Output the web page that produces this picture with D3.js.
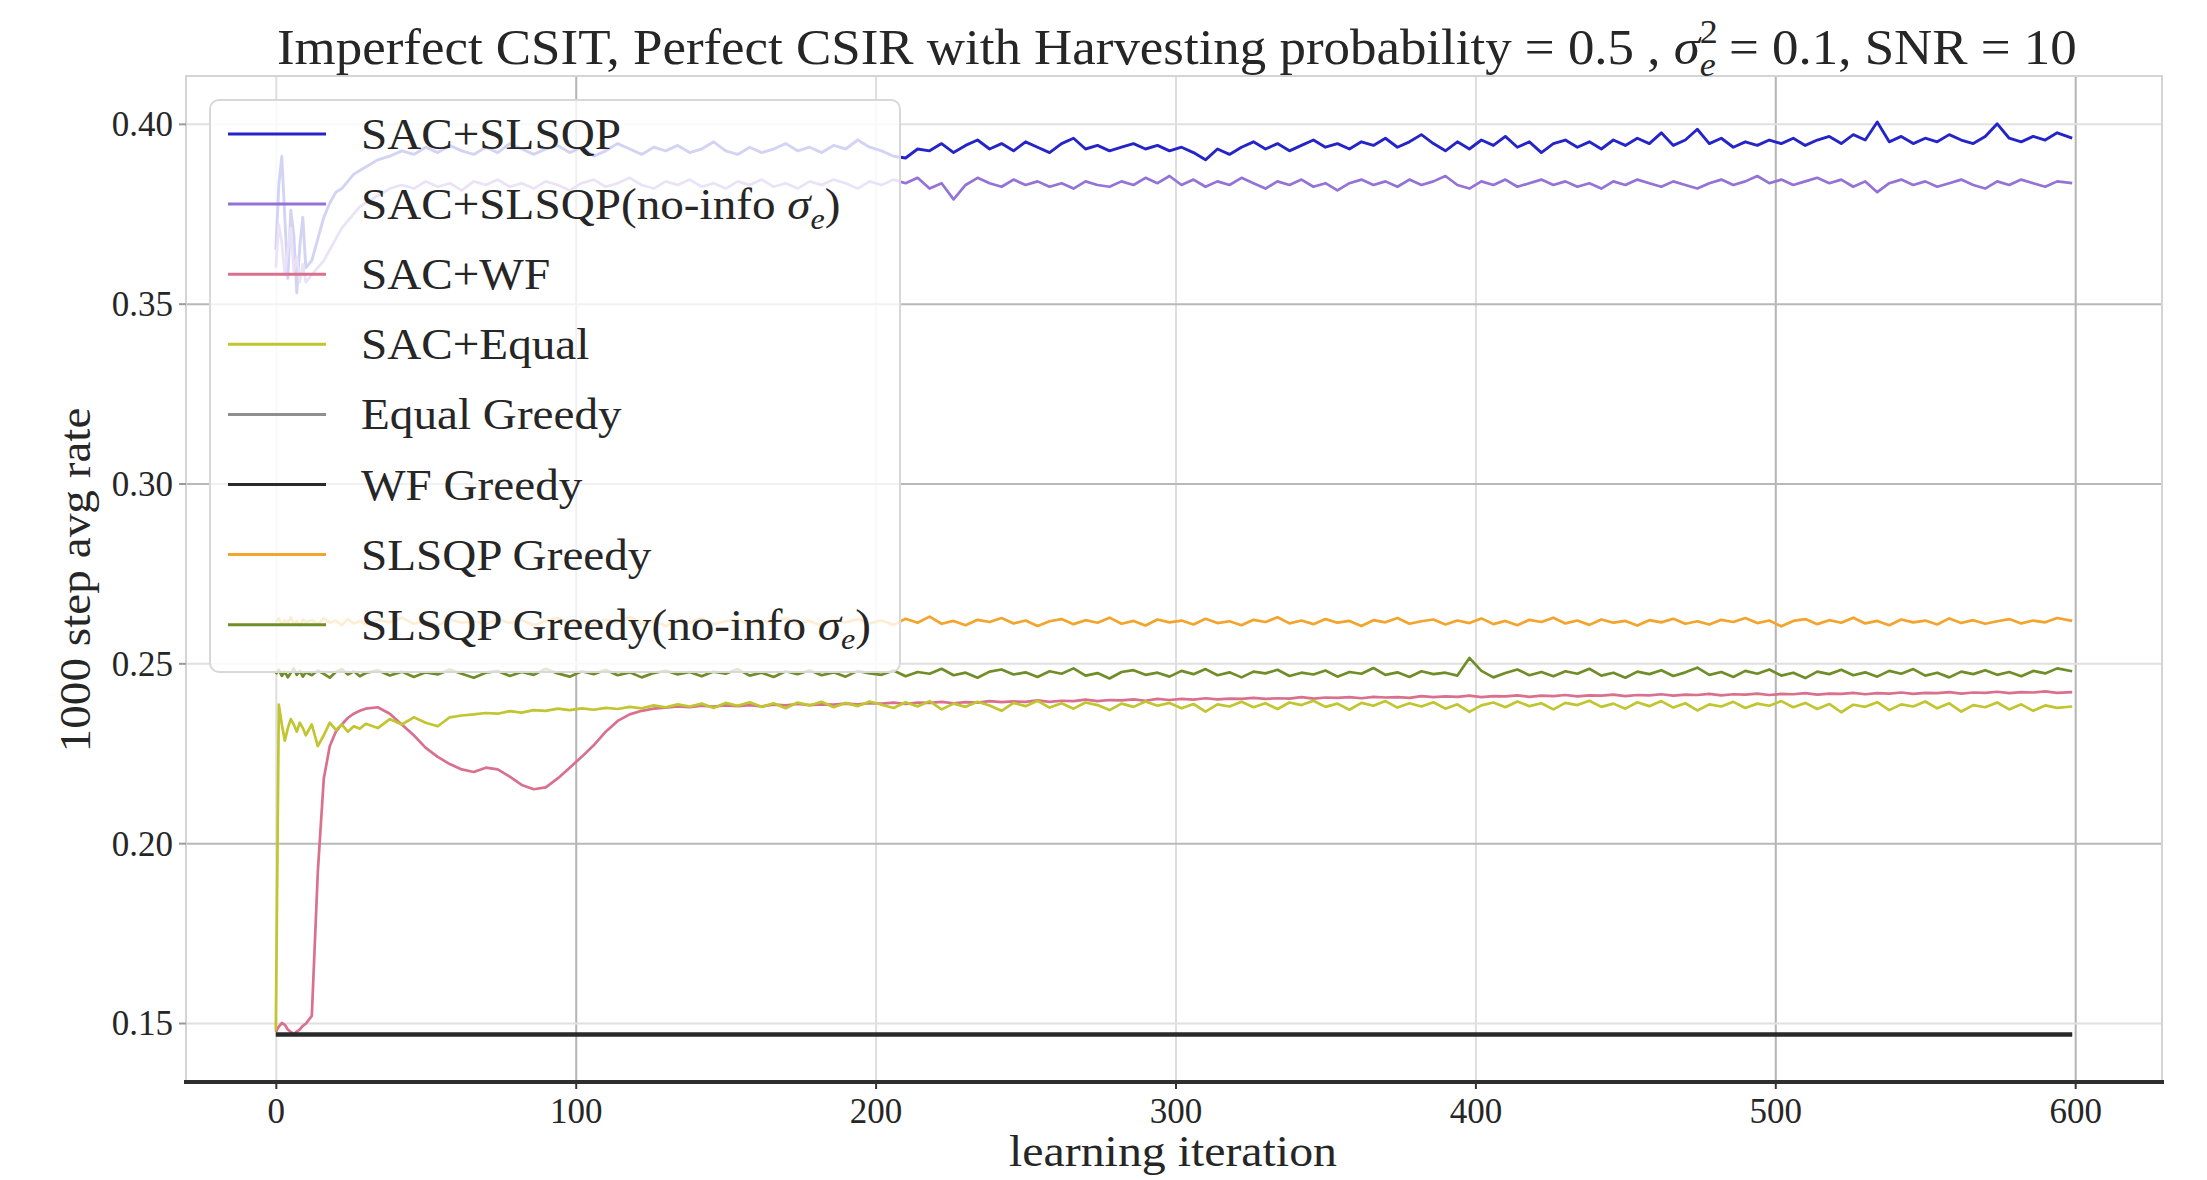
<!DOCTYPE html>
<html>
<head>
<meta charset="utf-8">
<script src="https://cdn.jsdelivr.net/npm/d3@7/dist/d3.min.js"></script>
<style>
  html, body { margin: 0; padding: 0; background: #fff; }
  svg { display: block; }
  text { font-family: "Liberation Serif", "DejaVu Serif", serif; fill: #262626; }
</style>
</head>
<body>
<div id="chart"></div>
<script>
//#region Data
// sampled learning iterations (dense at the start, every 4 afterwards)
const iters = d3.range(0, 11).concat(d3.range(12, 30, 2), d3.range(30, 595, 4), [599]);
const greedyIters = [0, 599];

const seriesNames = [
    "SAC+SLSQP", "SAC+SLSQP(no-info σe)", "SAC+WF", "SAC+Equal",
    "Equal Greedy", "WF Greedy", "SLSQP Greedy", "SLSQP Greedy(no-info σe)"
];

const xTicks = [0, 100, 200, 300, 400, 500, 600];
const yTicks = [0.15, 0.20, 0.25, 0.30, 0.35, 0.40];

const sacSlsqp = [
    0.365, 0.383, 0.391, 0.374, 0.357, 0.376, 0.369, 0.353, 0.366, 0.374, 0.360,
    0.362, 0.368, 0.374, 0.378, 0.381, 0.382, 0.384, 0.386, 0.387,
    0.388, 0.390, 0.391, 0.3925, 0.3915, 0.3935, 0.392, 0.394, 0.3925, 0.3915,
    0.3935, 0.392, 0.3945, 0.393, 0.3915, 0.393, 0.394, 0.392, 0.3935, 0.391,
    0.3925, 0.3945, 0.393, 0.3915, 0.3935, 0.3925, 0.394, 0.392, 0.393, 0.395,
    0.3925, 0.3915, 0.3935, 0.392, 0.393, 0.3945, 0.3925, 0.3935, 0.392, 0.394,
    0.393, 0.3955, 0.3935,
    0.3925, 0.3910, 0.3905, 0.3930, 0.3925, 0.3945, 0.3920, 0.3940, 0.3955, 0.3930,
    0.3945, 0.3925, 0.3950, 0.3935, 0.3920, 0.3945, 0.3960, 0.3930, 0.3940, 0.3925,
    0.3935, 0.3945, 0.3930, 0.3940, 0.3925, 0.3935, 0.3920, 0.3900, 0.3930, 0.3915,
    0.3935, 0.3950, 0.3930, 0.3945, 0.3925, 0.3940, 0.3955, 0.3935, 0.3945, 0.3930,
    0.3950, 0.3940, 0.3960, 0.3935, 0.3950, 0.3970, 0.3945, 0.3925, 0.3950, 0.3930,
    0.3955, 0.3940, 0.3965, 0.3935, 0.3950, 0.3920, 0.3945, 0.3955, 0.3935, 0.3950,
    0.3930, 0.3955, 0.3940, 0.3960, 0.3945, 0.3975, 0.3940, 0.3955, 0.3985, 0.3945,
    0.3960, 0.3935, 0.3950, 0.3940, 0.3955, 0.3945, 0.3960, 0.3940, 0.3955, 0.3965,
    0.3945, 0.3970, 0.3955, 0.4005, 0.3950, 0.3965, 0.3945, 0.3960, 0.3950, 0.3970,
    0.3955, 0.3945, 0.3965, 0.4000, 0.3960, 0.3950, 0.3965, 0.3955, 0.3975, 0.3960
];

const sacSlsqpNoInfo = [
    0.360, 0.372, 0.367, 0.358, 0.365, 0.371, 0.359, 0.363, 0.356, 0.361, 0.356,
    0.358, 0.360, 0.362, 0.365, 0.368, 0.371, 0.373, 0.375, 0.377,
    0.378, 0.380, 0.382, 0.383, 0.3820, 0.3840, 0.3825, 0.3835, 0.3815, 0.3840,
    0.3830, 0.3845, 0.3825, 0.3835, 0.3820, 0.3840, 0.3830, 0.3815, 0.3835, 0.3845,
    0.3825, 0.3835, 0.3850, 0.3830, 0.3820, 0.3840, 0.3830, 0.3845, 0.3825, 0.3835,
    0.3820, 0.3840, 0.3830, 0.3845, 0.3825, 0.3835, 0.3820, 0.3840, 0.3830, 0.3845,
    0.3835, 0.3820, 0.3840,
    0.3830, 0.3845, 0.3835, 0.3850, 0.3820, 0.3835, 0.3790, 0.3830, 0.3850, 0.3835,
    0.3825, 0.3845, 0.3830, 0.3840, 0.3825, 0.3835, 0.3820, 0.3840, 0.3830, 0.3825,
    0.3840, 0.3830, 0.3850, 0.3835, 0.3855, 0.3830, 0.3845, 0.3825, 0.3840, 0.3830,
    0.3850, 0.3835, 0.3820, 0.3840, 0.3830, 0.3845, 0.3825, 0.3835, 0.3815, 0.3835,
    0.3845, 0.3830, 0.3840, 0.3825, 0.3845, 0.3830, 0.3840, 0.3855, 0.3830, 0.3820,
    0.3840, 0.3830, 0.3845, 0.3825, 0.3835, 0.3845, 0.3830, 0.3840, 0.3825, 0.3835,
    0.3820, 0.3840, 0.3830, 0.3845, 0.3835, 0.3825, 0.3840, 0.3830, 0.3820, 0.3835,
    0.3845, 0.3830, 0.3840, 0.3855, 0.3835, 0.3845, 0.3830, 0.3840, 0.3850, 0.3835,
    0.3845, 0.3825, 0.3840, 0.3810, 0.3835, 0.3845, 0.3830, 0.3840, 0.3825, 0.3835,
    0.3845, 0.3830, 0.3820, 0.3840, 0.3830, 0.3845, 0.3835, 0.3825, 0.3840, 0.3835
];

const sacWf = [
    0.1475, 0.1490, 0.1500, 0.1495, 0.1482, 0.1475, 0.1470, 0.1476, 0.1482, 0.1492, 0.1498,
    0.1520, 0.1920, 0.2180, 0.2270, 0.2310, 0.2330, 0.2348, 0.2360, 0.2368,
    0.2374, 0.2378, 0.2360, 0.2330, 0.2300, 0.2265, 0.2240, 0.2220, 0.2205, 0.2198,
    0.2210, 0.2205, 0.2185, 0.2162, 0.2150, 0.2155, 0.2180, 0.2210, 0.2240, 0.2272,
    0.2310, 0.2340, 0.2358, 0.2368, 0.2374, 0.2377, 0.2380, 0.2378, 0.2382, 0.2380,
    0.2383, 0.2381, 0.2384, 0.2380, 0.2385, 0.2383, 0.2387, 0.2384, 0.2386, 0.2385,
    0.2388, 0.2386, 0.2389,
    0.2388, 0.2391, 0.2387, 0.2391, 0.2390, 0.2393, 0.2389, 0.2392, 0.2391, 0.2395,
    0.2392, 0.2394, 0.2393, 0.2397, 0.2393, 0.2396, 0.2395, 0.2399, 0.2395, 0.2398,
    0.2397, 0.2400, 0.2396, 0.2401, 0.2398, 0.2401, 0.2399, 0.2403, 0.2400, 0.2402,
    0.2401, 0.2404, 0.2401, 0.2403, 0.2402, 0.2406, 0.2402, 0.2405, 0.2404, 0.2406,
    0.2403, 0.2407, 0.2405, 0.2406, 0.2404, 0.2409, 0.2406, 0.2408, 0.2407, 0.2410,
    0.2406, 0.2409, 0.2408, 0.2411, 0.2407, 0.2410, 0.2409, 0.2412, 0.2408, 0.2411,
    0.2410, 0.2413, 0.2409, 0.2412, 0.2411, 0.2414, 0.2410, 0.2413, 0.2412, 0.2415,
    0.2411, 0.2414, 0.2413, 0.2416, 0.2412, 0.2415, 0.2414, 0.2417, 0.2413, 0.2416,
    0.2415, 0.2418, 0.2414, 0.2417, 0.2416, 0.2419, 0.2415, 0.2418, 0.2417, 0.2420,
    0.2416, 0.2419, 0.2418, 0.2421, 0.2417, 0.2420, 0.2419, 0.2422, 0.2418, 0.2420
];

const sacEqual = [
    0.1480, 0.2385, 0.2330, 0.2285, 0.2320, 0.2345, 0.2330, 0.2310, 0.2335, 0.2320, 0.2300,
    0.2330, 0.2270, 0.2300, 0.2335, 0.2315, 0.2330, 0.2310, 0.2325, 0.2318,
    0.2332, 0.2320, 0.2345, 0.2330, 0.2350, 0.2335, 0.2325, 0.2350, 0.2355, 0.2358,
    0.2362, 0.2360, 0.2367, 0.2363, 0.2370, 0.2368, 0.2374, 0.2370, 0.2375, 0.2371,
    0.2376, 0.2373, 0.2379, 0.2375, 0.2383, 0.2378, 0.2386, 0.2380, 0.2388, 0.2376,
    0.2390, 0.2382, 0.2392, 0.2379, 0.2389, 0.2375, 0.2391, 0.2383, 0.2393, 0.2378,
    0.2390, 0.2381, 0.2394,
    0.2385, 0.2376, 0.2392, 0.2380, 0.2395, 0.2372, 0.2388, 0.2379, 0.2393, 0.2383,
    0.2368, 0.2390, 0.2381, 0.2396, 0.2377, 0.2389, 0.2374, 0.2391, 0.2384, 0.2370,
    0.2388, 0.2379, 0.2394, 0.2382, 0.2390, 0.2375, 0.2387, 0.2366, 0.2386, 0.2380,
    0.2393, 0.2378, 0.2389, 0.2373, 0.2391, 0.2384, 0.2396, 0.2379, 0.2388, 0.2371,
    0.2390, 0.2382, 0.2395, 0.2377, 0.2389, 0.2380, 0.2392, 0.2374, 0.2386, 0.2365,
    0.2383, 0.2391, 0.2378, 0.2394, 0.2381, 0.2389, 0.2372, 0.2390, 0.2384, 0.2396,
    0.2379, 0.2388, 0.2374, 0.2392, 0.2381, 0.2395, 0.2377, 0.2389, 0.2369, 0.2386,
    0.2380, 0.2393, 0.2376, 0.2388, 0.2382, 0.2395, 0.2378, 0.2390, 0.2373, 0.2387,
    0.2364, 0.2385, 0.2379, 0.2392, 0.2370, 0.2386, 0.2380, 0.2394, 0.2375, 0.2389,
    0.2366, 0.2384, 0.2378, 0.2391, 0.2372, 0.2386, 0.2368, 0.2383, 0.2376, 0.2380
];

const equalGreedy = [0.1468, 0.1468];
const wfGreedy = [0.1468, 0.1468];

const slsqpGreedy = [
    0.2615, 0.2625, 0.2608, 0.2620, 0.2612, 0.2628, 0.2610, 0.2618, 0.2605, 0.2622, 0.2614,
    0.2620, 0.2609, 0.2625, 0.2613, 0.2619, 0.2606, 0.2623, 0.2611, 0.2618,
    0.2608, 0.2621, 0.2614, 0.2627, 0.2610, 0.2619, 0.2605, 0.2622, 0.2613, 0.2617,
    0.2609, 0.2624, 0.2612, 0.2620, 0.2606, 0.2618, 0.2626, 0.2611, 0.2619, 0.2607,
    0.2621, 0.2614, 0.2629, 0.2610, 0.2618, 0.2604, 0.2620, 0.2613, 0.2625, 0.2609,
    0.2617, 0.2622, 0.2608, 0.2619, 0.2612, 0.2626, 0.2610, 0.2618, 0.2605, 0.2621,
    0.2614, 0.2623, 0.2611,
    0.2619, 0.2607, 0.2624, 0.2613, 0.2630, 0.2610, 0.2618, 0.2606, 0.2621, 0.2615,
    0.2626, 0.2611, 0.2619, 0.2604, 0.2617, 0.2623, 0.2609, 0.2620, 0.2613, 0.2627,
    0.2610, 0.2618, 0.2605, 0.2622, 0.2614, 0.2619, 0.2608, 0.2624, 0.2612, 0.2617,
    0.2606, 0.2621, 0.2615, 0.2628, 0.2611, 0.2619, 0.2609, 0.2623, 0.2613, 0.2618,
    0.2604, 0.2620, 0.2614, 0.2626, 0.2610, 0.2617, 0.2622, 0.2608, 0.2619, 0.2612,
    0.2625, 0.2609, 0.2618, 0.2606, 0.2621, 0.2615, 0.2627, 0.2611, 0.2619, 0.2607,
    0.2622, 0.2613, 0.2618, 0.2605, 0.2620, 0.2614, 0.2624, 0.2610, 0.2617, 0.2608,
    0.2621, 0.2615, 0.2626, 0.2612, 0.2619, 0.2603, 0.2618, 0.2623, 0.2609, 0.2620,
    0.2613, 0.2627, 0.2611, 0.2618, 0.2606, 0.2622, 0.2614, 0.2619, 0.2608, 0.2625,
    0.2612, 0.2620, 0.2610, 0.2617, 0.2623, 0.2611, 0.2619, 0.2614, 0.2626, 0.2618
];

const slsqpGreedyNoInfo = [
    0.2470, 0.2482, 0.2465, 0.2477, 0.2461, 0.2474, 0.2486, 0.2468, 0.2479, 0.2463, 0.2475,
    0.2467, 0.2480, 0.2471, 0.2460, 0.2476, 0.2484, 0.2469, 0.2478, 0.2464,
    0.2473, 0.2481, 0.2466, 0.2477, 0.2462, 0.2475, 0.2469, 0.2483, 0.2471, 0.2460,
    0.2474, 0.2479, 0.2465, 0.2476, 0.2468, 0.2485, 0.2472, 0.2463, 0.2478, 0.2470,
    0.2482, 0.2467, 0.2475, 0.2461, 0.2473, 0.2480, 0.2469, 0.2476, 0.2464, 0.2477,
    0.2471, 0.2484, 0.2466, 0.2474, 0.2462, 0.2478, 0.2470, 0.2481, 0.2467, 0.2475,
    0.2463, 0.2479, 0.2472,
    0.2468, 0.2480, 0.2464, 0.2476, 0.2471, 0.2485, 0.2467, 0.2474, 0.2460, 0.2477,
    0.2483, 0.2469, 0.2475, 0.2462, 0.2478, 0.2471, 0.2486, 0.2466, 0.2473, 0.2458,
    0.2476, 0.2481, 0.2468, 0.2474, 0.2463, 0.2479, 0.2470, 0.2484, 0.2467, 0.2475,
    0.2461, 0.2477, 0.2472, 0.2482, 0.2465, 0.2474, 0.2469, 0.2480, 0.2463, 0.2476,
    0.2471, 0.2487, 0.2468, 0.2475, 0.2462, 0.2478, 0.2470, 0.2474, 0.2466, 0.2515,
    0.2479, 0.2461, 0.2473, 0.2483, 0.2467, 0.2476, 0.2464, 0.2478, 0.2471, 0.2485,
    0.2466, 0.2474, 0.2460, 0.2477, 0.2470, 0.2481, 0.2465, 0.2475, 0.2488, 0.2468,
    0.2476, 0.2462, 0.2479, 0.2471, 0.2483, 0.2466, 0.2474, 0.2459, 0.2477, 0.2470,
    0.2482, 0.2467, 0.2475, 0.2463, 0.2479, 0.2471, 0.2484, 0.2466, 0.2474, 0.2461,
    0.2477, 0.2470, 0.2481, 0.2468, 0.2476, 0.2464, 0.2479, 0.2472, 0.2486, 0.2478
];
//#endregion

//#region Chart
const W = 2207, H = 1180;
const plot = { left: 186, right: 2162, top: 76, bottom: 1082 };

const colors = ["#2424c8", "#9472d6", "#d9708e", "#c0c530", "#8f8f8f", "#2a2a2a", "#f2a42c", "#6f8e28"];
const widths = [2.9, 2.7, 2.7, 2.7, 2.7, 4.6, 2.7, 2.7];

const seriesList = [
    { x: iters, y: sacSlsqp },
    { x: iters, y: sacSlsqpNoInfo },
    { x: iters, y: sacWf },
    { x: iters, y: sacEqual },
    { x: greedyIters, y: equalGreedy },
    { x: greedyIters, y: wfGreedy },
    { x: iters, y: slsqpGreedy },
    { x: iters, y: slsqpGreedyNoInfo }
].map((s, i) => {
    if (s.x.length !== s.y.length) console.warn("length mismatch", seriesNames[i], s.x.length, s.y.length);
    return { name: seriesNames[i], points: s.x.map((v, j) => [v, s.y[j]]) };
});

const svg = d3.select("#chart").append("svg")
    .attr("width", W)
    .attr("height", H);

svg.append("rect").attr("width", W).attr("height", H).attr("fill", "#fff");

const x = d3.scaleLinear().domain([-29.95, 628.95]).range([plot.left, plot.right]);
const y = d3.scaleLinear().domain([0.1336, 0.4133]).range([plot.bottom, plot.top]);

// grid (some lines came out darker in the original raster)
const darkX = [100, 500, 600];
const darkY = [0.20, 0.30, 0.35];

svg.append("g")
    .attr("transform", `translate(0,${plot.bottom})`)
    .call(d3.axisBottom(x).tickValues(xTicks).tickSize(-(plot.bottom - plot.top)).tickFormat(""))
    .call(g => g.select(".domain").remove())
    .call(g => g.selectAll(".tick line")
        .attr("stroke", d => darkX.includes(d) ? "#b4b4b4" : "#dedede")
        .attr("stroke-width", 2));

svg.append("g")
    .attr("transform", `translate(${plot.left},0)`)
    .call(d3.axisLeft(y).tickValues(yTicks).tickSize(-(plot.right - plot.left)).tickFormat(""))
    .call(g => g.select(".domain").remove())
    .call(g => g.selectAll(".tick line")
        .attr("stroke", d => darkY.some(v => Math.abs(v - d) < 1e-9) ? "#b8b8b8" : "#e0e0e0")
        .attr("stroke-width", 2));

// spines
svg.append("rect")
    .attr("x", plot.left).attr("y", plot.top)
    .attr("width", plot.right - plot.left).attr("height", plot.bottom - plot.top)
    .attr("fill", "none").attr("stroke", "#d4d4d4").attr("stroke-width", 2);
svg.append("line")
    .attr("x1", plot.left - 2).attr("x2", plot.right + 2)
    .attr("y1", plot.bottom).attr("y2", plot.bottom)
    .attr("stroke", "#2e2e2e").attr("stroke-width", 4);

// lines
const line = d3.line().x(d => x(d[0])).y(d => y(d[1]));
svg.append("g")
    .selectAll("path")
    .data(seriesList)
    .enter()
    .append("path")
    .attr("d", d => line(d.points))
    .attr("fill", "none")
    .attr("stroke", (d, i) => colors[i])
    .attr("stroke-width", (d, i) => widths[i])
    .attr("stroke-linejoin", "round");

// axes
const yAxis = svg.append("g")
    .attr("transform", `translate(${plot.left},0)`)
    .call(d3.axisLeft(y).tickValues(yTicks).tickFormat(d3.format(".2f")).tickSize(7).tickPadding(6));
yAxis.select(".domain").remove();
yAxis.selectAll(".tick line").attr("stroke", "#9a9a9a").attr("stroke-width", 2);
yAxis.selectAll(".tick text")
    .attr("font-family", '"Liberation Serif", serif')
    .attr("font-size", 35)
    .attr("fill", "#333")
    .attr("dy", "0.34em");

const xAxis = svg.append("g")
    .attr("transform", `translate(0,${plot.bottom})`)
    .call(d3.axisBottom(x).tickValues(xTicks).tickFormat(d3.format("d")).tickSize(7).tickPadding(9));
xAxis.select(".domain").remove();
xAxis.selectAll(".tick line").attr("stroke", "#333").attr("stroke-width", 2);
xAxis.selectAll(".tick text")
    .attr("font-family", '"Liberation Serif", serif')
    .attr("font-size", 35)
    .attr("fill", "#333");

// stretch a text group horizontally so it covers a measured width
function fitWidth(g, target) {
    const w = g.node().getBBox().width;
    return w > 0 ? target / w : 1;
}

// σ with subscript e (and optional superscript 2 stacked)
function addSigma(t, fs, withSquare) {
    t.append("tspan").attr("font-style", "italic").text("σ");
    if (withSquare) {
        t.append("tspan").attr("font-size", fs * 0.68).attr("dy", -fs * 0.42).text("2");
        t.append("tspan").attr("font-size", fs * 0.68).attr("font-style", "italic")
            .attr("dx", -fs * 0.34).attr("dy", fs * 0.66).text("e");
        return -fs * 0.24;
    }
    t.append("tspan").attr("font-size", fs * 0.68).attr("font-style", "italic")
        .attr("dy", fs * 0.22).text("e");
    return -fs * 0.22;
}

// title
const titleG = svg.append("g");
const title = titleG.append("text").attr("font-size", 50).attr("text-anchor", "start");
title.append("tspan").text("Imperfect CSIT, Perfect CSIR with Harvesting probability = 0.5 , ");
let back = addSigma(title, 50, true);
title.append("tspan").attr("dy", back).text(" = 0.1, SNR = 10");
const tk = fitWidth(title, 1800);
titleG.attr("transform", `translate(277,64) scale(${tk},1)`);

// axis labels
const ylabG = svg.append("g");
const ylab = ylabG.append("text").attr("font-size", 44).attr("text-anchor", "middle").text("1000 step avg rate");
const yk = fitWidth(ylab, 345);
ylabG.attr("transform", `translate(90,580) rotate(-90) scale(${yk},1)`);

const xlabG = svg.append("g");
const xlab = xlabG.append("text").attr("font-size", 44).attr("text-anchor", "middle").text("learning iteration");
const xk = fitWidth(xlab, 328);
xlabG.attr("transform", `translate(1173,1166) scale(${xk},1)`);

// legend
const legend = svg.append("g");
legend.append("rect")
    .attr("x", 210).attr("y", 100)
    .attr("width", 690).attr("height", 572)
    .attr("rx", 9)
    .attr("fill", "#fff").attr("fill-opacity", 0.8)
    .attr("stroke", "#d8d8d8").attr("stroke-width", 2);

const rowGap = 70.1, row0 = 134;
let lk = null;
seriesNames.forEach((name, i) => {
    const cy = row0 + i * rowGap;
    legend.append("line")
        .attr("x1", 228).attr("x2", 326)
        .attr("y1", cy).attr("y2", cy)
        .attr("stroke", colors[i]).attr("stroke-width", 3);
    const g = legend.append("g");
    const t = g.append("text").attr("font-size", 44);
    if (name.endsWith("σe)")) {
        t.append("tspan").text(name.replace("σe)", ""));
        const b = addSigma(t, 44, false);
        t.append("tspan").attr("dy", b).text(")");
    } else {
        t.text(name);
    }
    if (lk === null) lk = fitWidth(t, 260);
    g.attr("transform", `translate(361,${cy + 15}) scale(${lk},1)`);
});
//#endregion
</script>
</body>
</html>
